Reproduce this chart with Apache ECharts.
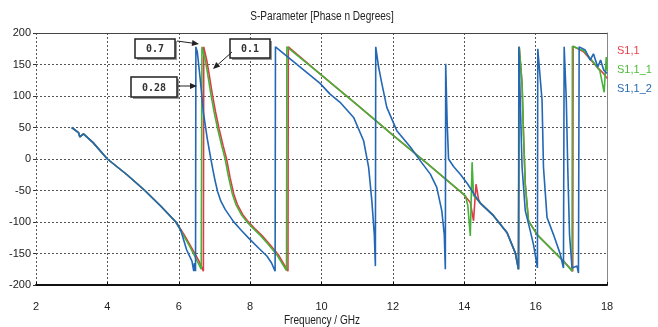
<!DOCTYPE html>
<html>
<head>
<meta charset="utf-8">
<script src="https://cdn.jsdelivr.net/npm/echarts@6/dist/echarts.min.js"></script>
<style>
html,body{margin:0;padding:0;background:#fff;}
#c{width:658px;height:327px;}
</style>
</head>
<body>
<div id="c"></div>
<script>
// ---- data (frequency GHz, phase degrees) ----
const chartTitle = 'S-Parameter [Phase n Degrees]';
const xAxisName = 'Frequency / GHz';
const seriesNames = ['S1,1', 'S1,1_1', 'S1,1_2'];
const xTicks = [2, 4, 6, 8, 10, 12, 14, 16, 18];
const yTicks = [-200, -150, -100, -50, 0, 50, 100, 150, 200];
const annotationTexts = ['0.7', '0.1', '0.28'];

const s11 = [
  [3.0,50],[3.19,42],[3.23,35],[3.33,40],[3.6,26],[4.0,0],[4.55,-25],[5.05,-50],[5.5,-75],[5.92,-100],
  [6.15,-120],[6.35,-140],[6.55,-160],[6.69,-178],[6.70,178],[6.78,158],[6.85,135],[6.94,103],[7.03,75],
  [7.13,48],[7.24,22],[7.34,0],[7.44,-30],[7.54,-55],[7.64,-72],[7.79,-88],[7.94,-99],[8.14,-111],
  [8.34,-122],[8.54,-135],[8.79,-152],[9.06,-178],[9.07,178],
  [10.0,133],[11.0,86],[12.0,38],[13.0,-9],[13.98,-56],[14.17,-69],[14.26,-98],[14.33,-40],[14.4,-64],
  [14.45,-70],[14.82,-90],[15.2,-117],[15.43,-149],[15.52,-175],[15.54,178],[15.62,120],[15.66,40],
  [15.71,-40],[15.8,-98],[16.04,-120],[16.41,-141],[16.78,-162],[17.04,-178],[17.05,179],[17.35,170],
  [17.72,146],[17.9,136],[18.0,128]
];
const s11_1 = [
  [3.0,50],[3.19,42],[3.23,35],[3.33,40],[3.6,26],[4.0,0],[4.55,-25],[5.05,-50],[5.5,-75],[5.92,-100],
  [6.1,-118],[6.3,-138],[6.5,-160],[6.63,-175],[6.65,178],[6.74,158],[6.81,135],[6.9,103],[6.99,75],
  [7.09,48],[7.2,22],[7.3,0],[7.4,-30],[7.5,-55],[7.6,-72],[7.75,-88],[7.9,-99],[8.1,-111],
  [8.3,-122],[8.5,-135],[8.75,-152],[9.02,-177],[9.03,178],
  [10.0,133],[11.0,86],[12.0,38],[13.0,-9],[14.03,-58],[14.1,-74],[14.17,-122],[14.22,-5],[14.26,-58],
  [14.45,-70],[14.82,-90],[15.2,-117],[15.43,-149],[15.52,-175],[15.54,178],[15.62,120],[15.66,40],
  [15.71,-40],[15.8,-98],[16.04,-120],[16.41,-141],[16.78,-162],[17.02,-178],[17.03,179],[17.35,172],
  [17.6,155],[17.8,140],[17.87,120],[17.92,106],[17.95,135],[17.98,162],[18.0,140]
];
const s11_2 = [
  [3.0,50],[3.19,42],[3.23,35],[3.33,40],[3.6,26],[4.0,0],[4.55,-25],[5.05,-50],[5.5,-75],[5.92,-100],
  [6.05,-112],[6.22,-144],[6.37,-162],[6.42,-178],[6.44,-165],[6.47,-178],[6.48,178],[6.52,170],
  [6.6,128],[6.69,74],[6.8,32],[6.9,0],[6.96,-18],[7.02,-35],[7.09,-52],[7.18,-67],[7.3,-80],
  [7.53,-99],[7.75,-113],[8.0,-128],[8.25,-142],[8.47,-154],[8.6,-165],
  [8.7,-178],[8.71,178],[9.96,120],[10.24,103],[10.52,90],[10.9,66],[11.18,29],[11.32,-13],[11.41,-66],
  [11.48,-120],[11.51,-170],[11.52,178],[11.6,146],[11.69,120],[11.83,82],[12.11,45],[12.49,19],
  [12.77,-3],[13.05,-24],[13.23,-45],[13.37,-82],[13.44,-120],[13.47,-175],[13.48,151],[13.52,60],
  [13.56,0],[13.7,-12],[13.9,-25],[14.1,-40],[14.3,-58],[14.45,-70],[14.82,-90],[15.2,-117],
  [15.43,-149],[15.52,-175],[15.53,178],[15.57,93],[15.62,-13],[15.71,-82],[15.85,-114],[15.94,-136],
  [16.02,-162],[16.05,-173],[16.06,175],[16.18,93],[16.22,-13],[16.32,-93],[16.5,-120],[16.69,-151],
  [16.78,-173],[16.8,178],[16.86,93],[16.9,-13],[16.95,-120],[17.02,-173],[17.16,-170],[17.2,-181],
  [17.22,178],[17.39,173],[17.53,157],[17.62,167],[17.74,146],[17.82,157],[17.91,141],[18.0,136]
];

// ---- styles ----
const colors = ['#e23a44', '#45b23a', '#2367b5'];
const legendColors = ['#e8404c', '#4fbc3a', '#2a6ab2'];
const FONT = '"Liberation Sans",sans-serif';

function arrow(x1, y1, x2, y2) {
  const a = Math.atan2(y2 - y1, x2 - x1), L = 7, W = 3;
  const bx = x2 - L * Math.cos(a), by = y2 - L * Math.sin(a);
  const px = -Math.sin(a) * W, py = Math.cos(a) * W;
  return [
    {type: 'line', silent: true, shape: {x1, y1, x2: bx, y2: by}, style: {stroke: '#222', lineWidth: 1}, z: 100},
    {type: 'polygon', silent: true, shape: {points: [[x2, y2], [bx + px, by + py], [bx - px, by - py]]}, style: {fill: '#222'}, z: 100}
  ];
}
function box(x, y, w, h, text) {
  return [
    {type: 'rect', silent: true, shape: {x: x + 2, y: y + 2, width: w, height: h}, style: {fill: '#999'}, z: 99},
    {type: 'rect', silent: true, shape: {x, y, width: w, height: h}, style: {fill: '#fff', stroke: '#222', lineWidth: 1.5}, z: 100},
    {type: 'text', silent: true, style: {text, x: x + w / 2, y: y + h / 2 + 1, align: 'center', verticalAlign: 'middle', font: 'bold 10px "DejaVu Sans Mono",monospace', fill: '#333'}, z: 101}
  ];
}
function narrowText(text, x, y, size) {
  return {type: 'text', silent: true, x, y, scaleX: 0.84, z: 50,
    style: {text, align: 'center', verticalAlign: 'middle', font: size + 'px ' + FONT, fill: '#222'}};
}

const chart = echarts.init(document.getElementById('c'), null, {renderer: 'canvas'});
const dotted = {color: '#555', width: 1, type: [2, 2]};

chart.setOption({
  animation: false,
  backgroundColor: '#fff',
  legend: {
    orient: 'vertical', left: 612, top: 40, itemGap: 8, itemWidth: 0, itemHeight: 0, icon: 'rect',
    data: seriesNames.map((n, i) => ({name: n, textStyle: {color: legendColors[i]}})),
    textStyle: {fontSize: 11, fontFamily: FONT, padding: [0, 0, 0, -5]}
  },
  grid: {left: 36, right: 51, top: 33, bottom: 42, containLabel: false},
  xAxis: [{
    type: 'value', min: xTicks[0], max: xTicks[xTicks.length - 1], interval: 2,
    axisLine: {show: true, onZero: false, lineStyle: {color: '#111', width: 2}},
    axisTick: {show: true, length: 3, inside: true, lineStyle: {color: '#111'}},
    axisLabel: {fontSize: 11, color: '#222', margin: 16, fontFamily: FONT},
    splitLine: {show: true, lineStyle: dotted}
  }, {
    type: 'value', position: 'top', min: xTicks[0], max: xTicks[xTicks.length - 1], interval: 2,
    axisLine: {show: true, onZero: false, lineStyle: {color: '#444', width: 1}},
    axisTick: {show: false}, axisLabel: {show: false}, splitLine: {show: false}
  }],
  yAxis: [{
    type: 'value', min: yTicks[0], max: yTicks[yTicks.length - 1], interval: 50,
    axisLine: {show: false},
    axisTick: {show: true, length: 3, lineStyle: {color: '#333'}},
    axisLabel: {fontSize: 11, color: '#222', margin: 5, fontFamily: FONT},
    splitLine: {show: true, lineStyle: dotted}
  }, {
    type: 'value', position: 'right', min: yTicks[0], max: yTicks[yTicks.length - 1], interval: 50,
    axisLine: {show: true, onZero: false, lineStyle: {color: '#888', width: 1}},
    axisTick: {show: false}, axisLabel: {show: false}, splitLine: {show: false}
  }],
  series: [s11, s11_1, s11_2].map((d, i) => ({
    name: seriesNames[i], type: 'line', data: d, showSymbol: false, symbol: 'none',
    xAxisIndex: 0, yAxisIndex: 0,
    lineStyle: {color: colors[i], width: 1.6}, itemStyle: {color: colors[i]}
  })),
  graphic: [].concat(
    [narrowText(chartTitle, 322, 17, 12), narrowText(xAxisName, 322, 321, 12)],
    box(135, 39, 40, 19, annotationTexts[0]),
    box(230, 39, 40, 19, annotationTexts[1]),
    box(131, 77, 46, 20, annotationTexts[2]),
    arrow(177, 41, 199, 44),
    arrow(178, 86, 197, 86),
    arrow(232, 52, 213, 69)
  )
});
</script>
</body>
</html>
